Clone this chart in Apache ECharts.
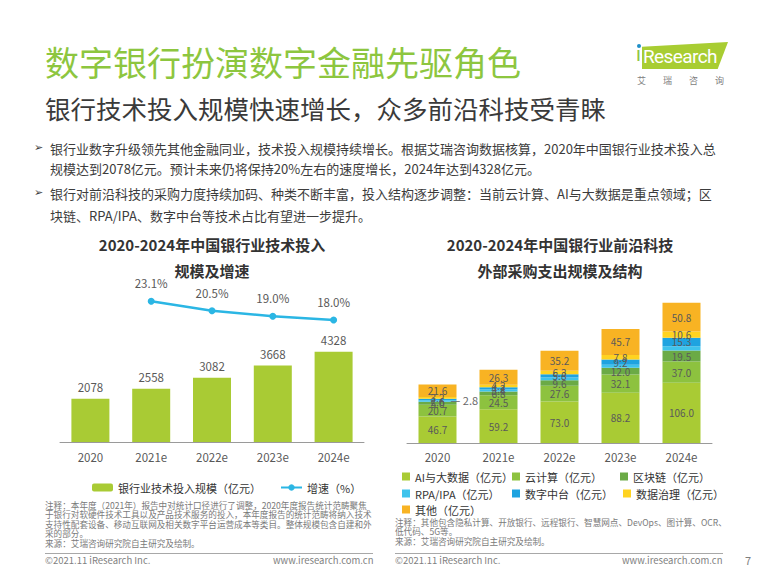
<!DOCTYPE html>
<html>
<head>
<meta charset="utf-8">
<script src="https://cdn.jsdelivr.net/npm/echarts@6/dist/echarts.min.js"></script>
<style>
  html, body { margin: 0; padding: 0; background: #fff; }
  body { width: 768px; height: 576px; position: relative; overflow: hidden;
         font-family: "Noto Sans CJK SC", "Noto Sans", sans-serif; }
  #chart { position: absolute; left: 0; top: 0; width: 768px; height: 576px; }
  .t { position: absolute; white-space: nowrap; line-height: 1; pointer-events: none; }
  .bul { font-size: 13px; color: #3c3c3c; left: 50px; }
  .arrow { font-family: "DejaVu Sans", sans-serif; font-size: 11px; color: #3c3c3c; left: 34px; }
  .ctitle { font-size: 15px; font-weight: bold; color: #333; text-align: center; width: 320px; line-height: 26px; }
  .note { font-size: 8.6px; color: #7a7a7a; }
  .foot { font-size: 9.5px; color: #7f7f7f; }
  .sep { position: absolute; height: 1px; background: #a8a8a8; }
</style>
</head>
<body>
<div id="chart"></div>

<!-- header -->
<div class="t" style="left:45px;top:45px;font-size:34px;color:#8DC63F;">数字银行扮演数字金融先驱角色</div>
<div class="t" style="left:45px;top:95px;font-size:25.5px;color:#3a3a3a;">银行技术投入规模快速增长，众多前沿科技受青睐</div>

<!-- logo -->
<div class="t" style="left:636px;top:44px;font-family:Roboto,sans-serif;font-size:20px;color:#8DC63F;">&#305;</div>
<div class="t" style="left:637px;top:44px;width:4px;height:4px;border-radius:2px;background:#1E8FC8;"></div>
<div class="t" style="left:642px;top:42px;width:86px;height:27px;background:#A8CD32;clip-path:polygon(0 18%,100% 0,88% 100%,0 100%);"></div>
<div class="t" style="left:643px;top:47px;font-family:Roboto,sans-serif;font-size:19px;color:#fff;letter-spacing:-0.6px;">Research</div>
<div class="t" style="left:637px;top:76px;font-size:9px;color:#808080;letter-spacing:17px;">艾瑞咨询</div>

<!-- bullets -->
<div class="t arrow" style="top:142px;">&#10146;</div>
<div class="t bul" style="top:141.5px;">银行业数字升级领先其他金融同业，技术投入规模持续增长。根据艾瑞咨询数据核算，2020年中国银行业技术投入总</div>
<div class="t bul" style="top:161.5px;">规模达到2078亿元。预计未来仍将保持20%左右的速度增长，2024年达到4328亿元。</div>
<div class="t arrow" style="top:187px;">&#10146;</div>
<div class="t bul" style="top:186.5px;">银行对前沿科技的采购力度持续加码、种类不断丰富，投入结构逐步调整：当前云计算、AI与大数据是重点领域；区</div>
<div class="t bul" style="top:208.5px;">块链、RPA/IPA、数字中台等技术占比有望进一步提升。</div>

<!-- chart titles -->
<div class="t ctitle" style="left:52px;top:232px;">2020-2024年中国银行业技术投入<br>规模及增速</div>
<div class="t ctitle" style="left:400px;top:232px;">2020-2024年中国银行业前沿科技<br>外部采购支出规模及结构</div>

<!-- notes left -->
<div class="t note" style="left:45px;top:500.5px;">注释：本年度（2021年）报告中对统计口径进行了调整，2020年度报告统计范畴聚焦</div>
<div class="t note" style="left:45px;top:510px;">于银行对软硬件技术工具以及产品技术服务的投入，本年度报告的统计范畴将纳入技术</div>
<div class="t note" style="left:45px;top:519.5px;">支持性配套设备、移动互联网及相关数字平台运营成本等类目。整体规模包含自建和外</div>
<div class="t note" style="left:45px;top:529px;">采的部分。</div>
<div class="t note" style="left:45px;top:538.5px;">来源：艾瑞咨询研究院自主研究及绘制。</div>
<div class="sep" style="left:45px;top:553px;width:328px;"></div>
<div class="t foot" style="left:45px;top:556px;">©2021.11 iResearch Inc.</div>
<div class="t foot" style="left:273px;top:556px;width:100px;text-align:right;">www.iresearch.com.cn</div>

<!-- notes right -->
<div class="t note" style="left:395px;top:517.5px;">注释：其他包含隐私计算、开放银行、远程银行、智慧网点、DevOps、图计算、OCR、</div>
<div class="t note" style="left:395px;top:527px;">低代码、5G等。</div>
<div class="t note" style="left:395px;top:536.5px;">来源：艾瑞咨询研究院自主研究及绘制。</div>
<div class="sep" style="left:395px;top:553px;width:328px;"></div>
<div class="t foot" style="left:395px;top:556px;">©2021.11 iResearch Inc.</div>
<div class="t foot" style="left:622px;top:556px;width:100px;text-align:right;">www.iresearch.com.cn</div>
<div class="t" style="left:745px;top:555px;font-size:11px;color:#7f7f7f;">7</div>

<script>
// ---- data ----
const years = ['2020', '2021e', '2022e', '2023e', '2024e'];
const investScale = [2078, 2558, 3082, 3668, 4328];
const growthRate = [null, 23.1, 20.5, 19.0, 18.0];

const aiBigData = [46.7, 59.2, 73.0, 88.2, 106.0];
const cloudComputing = [20.7, 24.5, 27.6, 32.1, 37.0];
const blockchain = [5.0, 6.8, 9.6, 12.0, 19.5];
const rpaIpa = [2.6, 3.4, 4.7, 5.3, 7.3];
const digitalPlatform = [2.8, 4.2, 5.8, 9.2, 15.3];
const dataGovernance = [3.2, 4.2, 6.3, 7.8, 10.6];
const others = [21.6, 26.3, 35.2, 45.7, 50.8];
const frontierTotals = [103.0, 128.6, 162.2, 200.3, 246.5];

const leftLegendNames = ['银行业技术投入规模（亿元）', '增速（%）'];
const rightLegendNames = ['AI与大数据（亿元）', '云计算（亿元）', '区块链（亿元）',
  'RPA/IPA（亿元）', '数字中台（亿元）', '数据治理（亿元）', '其他（亿元）'];

// ---- build ----
const chart = echarts.init(document.getElementById('chart'), null, { renderer: 'svg' });
const FONT = '"Noto Sans CJK SC", "Noto Sans", sans-serif';
const labelGray = '#595959';

const stackSeriesData = [aiBigData, cloudComputing, blockchain, rpaIpa, digitalPlatform, dataGovernance, others];
const stackColors = ['#A9CB34', '#8DC23F', '#6BAA46', '#3EC3EC', '#1EA3E0', '#FFD320', '#F8B323'];

const stackSeries = stackSeriesData.map((arr, i) => ({
  name: rightLegendNames[i],
  type: 'bar',
  xAxisIndex: 1, yAxisIndex: 2,
  stack: 'frontier',
  barWidth: 38,
  itemStyle: { color: stackColors[i] },
  label: { show: true, position: 'inside', fontSize: 10, lineHeight: 10, color: '#5a5a5a', fontFamily: FONT,
           formatter: p => p.value.toFixed(1) },
  data: arr.map((v, j) => {
    const item = { value: v };
    // RPA/IPA values are not labelled in 2022e-2024e in the source chart
    if (i === 3 && j >= 2) item.label = { show: false };
    // tiny 2020 digital-platform segment labelled outside with a leader dash
    if (i === 4 && j === 0) item.label = { show: true, position: 'right', distance: -6,
      formatter: p => '— ' + p.value.toFixed(1), fontSize: 11, color: '#666' };
    return item;
  })
}));

const option = {
  animation: false,
  textStyle: { fontFamily: FONT },
  legend: [
    { left: 87, top: 477, itemWidth: 21, itemHeight: 8, itemGap: 19,
      data: leftLegendNames, textStyle: { fontSize: 11, color: '#333', fontFamily: FONT } },
    ...[[397, 466], [507, 466], [615, 466], [397, 483], [507, 483], [618, 483], [397, 499]].map((pos, i) => ({
      left: pos[0], top: pos[1], itemWidth: 8, itemHeight: 8, icon: 'rect',
      data: [rightLegendNames[i]], textStyle: { fontSize: 11, color: '#333', fontFamily: FONT }
    }))
  ],
  grid: [
    { left: 60, width: 304, top: 292, height: 150 },
    { left: 407, width: 305, top: 295, height: 148 }
  ],
  xAxis: [
    { type: 'category', gridIndex: 0, data: years,
      axisLine: { lineStyle: { color: '#9a9a9a' } }, axisTick: { show: false },
      axisLabel: { fontSize: 11.5, color: labelGray, margin: 9 } },
    { type: 'category', gridIndex: 1, data: years,
      axisLine: { lineStyle: { color: '#9a9a9a' } }, axisTick: { show: false },
      axisLabel: { fontSize: 11.5, color: labelGray, margin: 8 } }
  ],
  yAxis: [
    { type: 'value', gridIndex: 0, min: 0, max: 7200, show: false, splitLine: { show: false } },
    { type: 'value', gridIndex: 0, min: -15.2, max: 25.6, show: false, splitLine: { show: false } },
    { type: 'value', gridIndex: 1, min: 0, max: 260, show: false, splitLine: { show: false } }
  ],
  series: [
    { name: leftLegendNames[0], type: 'bar', xAxisIndex: 0, yAxisIndex: 0, barWidth: 38,
      itemStyle: { color: '#A9CB34' }, data: investScale,
      label: { show: true, position: 'top', distance: 6, fontSize: 11.5, color: labelGray } },
    { name: leftLegendNames[1], type: 'line', xAxisIndex: 0, yAxisIndex: 1, data: growthRate,
      symbol: 'circle', symbolSize: 7, lineStyle: { width: 2.5, color: '#2BB6E4' },
      itemStyle: { color: '#2BB6E4' },
      label: { show: true, position: 'top', distance: 9, fontSize: 11.5, color: labelGray,
               formatter: p => p.value.toFixed(1) + '%' } },
    ...stackSeries,
    { name: 'total', type: 'line', xAxisIndex: 1, yAxisIndex: 2, data: frontierTotals,
      symbol: 'none', lineStyle: { opacity: 0 }, silent: true,
      label: { show: true, position: 'top', distance: 8, fontSize: 11.5, color: labelGray,
               formatter: p => p.value.toFixed(1) } }
  ]
};
chart.setOption(option);
</script>
</body>
</html>
